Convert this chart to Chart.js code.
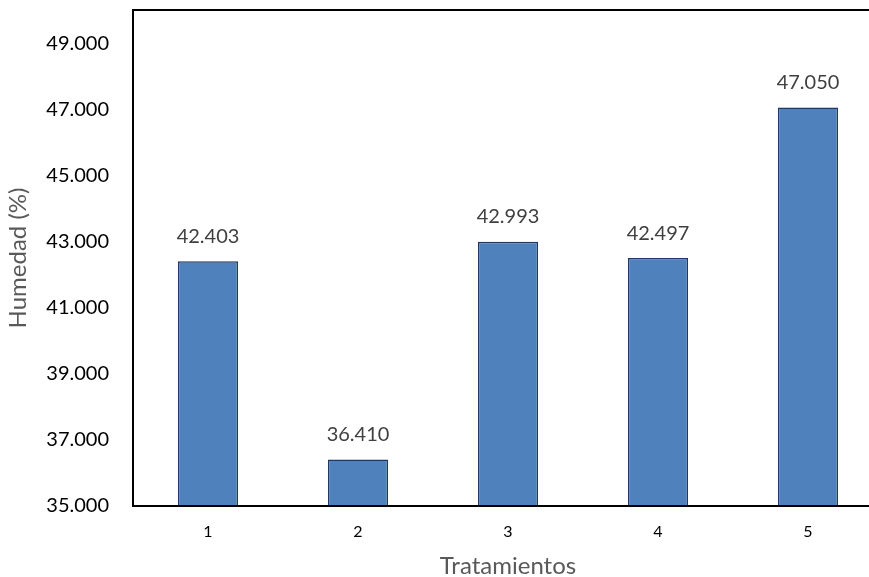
<!DOCTYPE html>
<html>
<head>
<meta charset="utf-8">
<script src="https://cdn.jsdelivr.net/npm/chart.js@4/dist/chart.umd.min.js"></script>
<style>
  html, body { margin: 0; padding: 0; background: #fff; overflow: hidden; }
  #wrap { width: 890px; height: 577px; }
</style>
</head>
<body>
<div id="wrap"><canvas id="c" width="890" height="577"></canvas></div>
<script>
// Humedad por tratamiento
const treatments = ['1', '2', '3', '4', '5'];
const humidity = [42.403, 36.410, 42.993, 42.497, 47.050];
const yTicks = [35, 37, 39, 41, 43, 45, 47, 49];

const FONT = 'Lato, "Open Sans", sans-serif';

// Frame along the top, left and bottom of the plotting area
const frame = {
  id: 'frame',
  afterDatasetsDraw(chart) {
    const { ctx, chartArea: a } = chart;
    ctx.save();
    ctx.strokeStyle = '#000';
    ctx.lineWidth = 2;
    ctx.beginPath();
    ctx.moveTo(a.right, a.top);
    ctx.lineTo(a.left, a.top);
    ctx.lineTo(a.left, a.bottom);
    ctx.lineTo(a.right, a.bottom);
    ctx.stroke();
    ctx.restore();
  }
};

// Value labels above each bar
const valueLabels = {
  id: 'valueLabels',
  afterDatasetsDraw(chart) {
    const { ctx } = chart;
    const meta = chart.getDatasetMeta(0);
    ctx.save();
    ctx.font = '20px ' + FONT;
    ctx.fillStyle = '#404040';
    ctx.textAlign = 'center';
    ctx.textBaseline = 'middle';
    meta.data.forEach((bar, i) => {
      const v = chart.data.datasets[0].data[i];
      ctx.fillText(v.toFixed(3), bar.x, bar.y - 25);
    });
    ctx.restore();
  }
};

new Chart(document.getElementById('c'), {
  type: 'bar',
  data: {
    labels: treatments,
    datasets: [{
      data: humidity,
      backgroundColor: '#4F81BD',
      borderColor: '#1F3864',
      borderWidth: 1.5,
      barPercentage: 0.4,
      categoryPercentage: 1.0
    }]
  },
  options: {
    responsive: false,
    animation: false,
    events: [],
    layout: { padding: { top: 10, right: 7, left: 0, bottom: 0 } },
    plugins: { legend: { display: false }, tooltip: { enabled: false } },
    scales: {
      x: {
        grid: { display: false, drawTicks: false },
        border: { display: false },
        ticks: { color: '#000', font: { family: FONT, size: 16 }, padding: 16 },
        title: {
          display: true,
          text: 'Tratamientos',
          color: '#595959',
          font: { family: FONT, size: 24 },
          padding: { top: 9, bottom: -4 }
        },
        afterFit(scale) {
          scale.height = 71;
          scale.paddingLeft = 0;
          scale.paddingRight = 0;
        }
      },
      y: {
        min: 35,
        max: 50,
        grid: { display: false, drawTicks: false },
        border: { display: false },
        afterBuildTicks(scale) { scale.ticks = yTicks.map(v => ({ value: v })); },
        ticks: {
          color: '#000',
          font: { family: FONT, size: 20 },
          padding: 24,
          callback: v => Number(v).toFixed(3)
        },
        title: {
          display: true,
          text: 'Humedad (%)',
          color: '#595959',
          font: { family: FONT, size: 24 },
          padding: { top: 4, bottom: 0 }
        },
        afterFit(scale) {
          scale.width = 133;
          scale.paddingTop = 0;
          scale.paddingBottom = 0;
        }
      }
    }
  },
  plugins: [frame, valueLabels]
});
</script>
</body>
</html>
